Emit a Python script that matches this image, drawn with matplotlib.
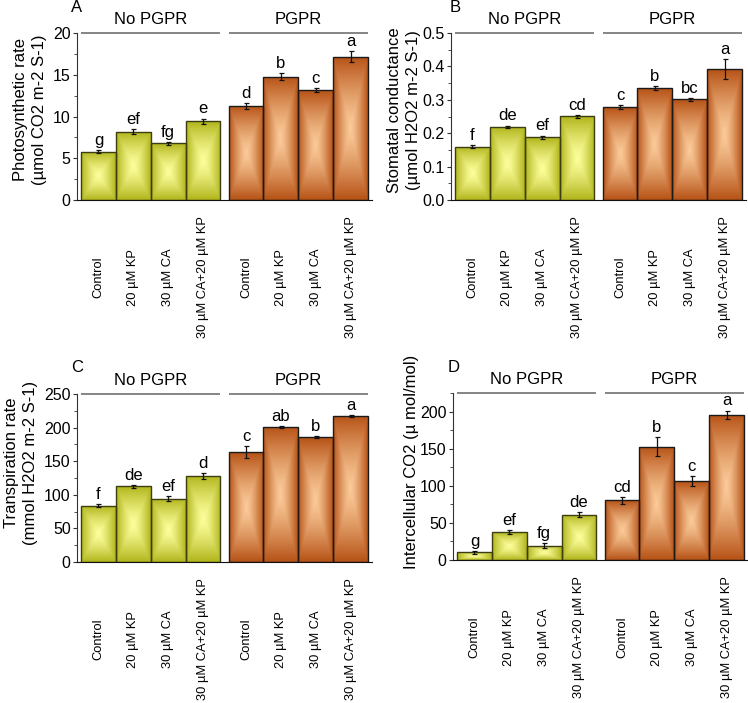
import numpy as np
import matplotlib
matplotlib.use("Agg")
import matplotlib.pyplot as plt
from matplotlib.ticker import MultipleLocator, FormatStrFormatter

plt.rcParams['font.family'] = ['Liberation Sans', 'DejaVu Sans']

categories = ['Control', '20 µM KP', '30 µM CA', '30 µM CA+20 µM KP',
              'Control', '20 µM KP', '30 µM CA', '30 µM CA+20 µM KP']
groups = ['No PGPR', 'PGPR']

photo_vals = [5.78, 8.18, 6.79, 9.46, 11.26, 14.77, 13.13, 17.16]
photo_err = [0.2, 0.3, 0.2, 0.3, 0.4, 0.4, 0.24, 0.66]
photo_let = ['g', 'ef', 'fg', 'e', 'd', 'b', 'c', 'a']

stom_vals = [0.160, 0.219, 0.188, 0.251, 0.277, 0.334, 0.301, 0.391]
stom_err = [0.004, 0.004, 0.005, 0.004, 0.006, 0.006, 0.004, 0.030]
stom_let = ['f', 'de', 'ef', 'cd', 'c', 'b', 'bc', 'a']

trans_vals = [83.8, 112.6, 94.2, 128.0, 163.2, 201.4, 185.5, 217.7]
trans_err = [2.0, 2.5, 4.0, 5.0, 8.7, 1.5, 1.5, 1.5]
trans_let = ['f', 'de', 'ef', 'd', 'c', 'ab', 'b', 'a']

ci_vals = [10.4, 37.4, 19.4, 60.8, 80.2, 152.3, 106.3, 195.5]
ci_err = [2.0, 3.0, 3.0, 3.4, 4.5, 12.8, 6.3, 5.9]
ci_let = ['g', 'ef', 'fg', 'de', 'cd', 'b', 'c', 'a']

W, H = 748, 703
fig = plt.figure(figsize=(W / 100, H / 100), dpi=100)

gap = 0.23
xpos = np.array([0, 1, 2, 3, 4 + gap, 5 + gap, 6 + gap, 7 + gap])
xlim = (-0.615, 7 + gap + 0.615)

yellow_edge = np.array([176, 181, 26]) / 255
yellow_center = np.array([253, 254, 155]) / 255
orange_edge = np.array([182, 82, 22]) / 255
orange_center = np.array([251, 202, 152]) / 255

n = 200
u = np.linspace(-1, 1, n)
UU, VV = np.meshgrid(u, u)
T = np.maximum(np.abs(UU), np.abs(VV)) ** 1.3


def grad_img(c_edge, c_center):
    return c_center[None, None, :] + (c_edge - c_center)[None, None, :] * T[:, :, None]


img_y = grad_img(yellow_edge, yellow_center)
img_o = grad_img(orange_edge, orange_center)


def panel(rect, vals, errs, lets, ylim, major, minor, fmt, ylabel, ylab_x, ylab_y):
    ax = fig.add_axes(rect)
    ax.set_xlim(*xlim)
    ax.set_ylim(*ylim)
    for i, (x, v, e) in enumerate(zip(xpos, vals, errs)):
        img = img_y if i < 4 else img_o
        ec = '#3d3d12' if i < 4 else '#1a1a1a'
        bars = ax.bar(x, v, width=1.0, facecolor='none', edgecolor=ec, linewidth=1.0, zorder=3)
        patch = bars[0]
        im = ax.imshow(img, extent=(x - 0.5, x + 0.5, 0, v), aspect='auto',
                       interpolation='bilinear', zorder=2)
        im.set_clip_path(patch)
        ax.errorbar(x, v, yerr=e, fmt='none', ecolor='#111111', elinewidth=0.9,
                    capsize=1.8, capthick=0.9, zorder=4)
        ax.annotate(lets[i], (x, v + e), xytext=(0, 1.5), textcoords='offset points',
                    ha='center', va='bottom', fontsize=12, zorder=5)
    ax.set_xlim(*xlim)
    ax.set_ylim(*ylim)
    ax.spines['top'].set_visible(False)
    ax.spines['right'].set_visible(False)
    ax.spines['left'].set_color('#333333')
    ax.spines['bottom'].set_color('#111111')
    ax.yaxis.set_major_locator(MultipleLocator(major))
    ax.yaxis.set_minor_locator(MultipleLocator(minor))
    ax.yaxis.set_major_formatter(FormatStrFormatter(fmt))
    ax.tick_params(axis='y', which='major', length=3, width=0.8, labelsize=11.5, pad=1.5, color='#333333')
    ax.tick_params(axis='y', which='minor', length=2, width=0.6, color='#333333')
    ax.set_xticks(xpos)
    ax.set_xticklabels(categories, rotation=90, fontsize=9.3, va='center', ha='center')
    ax.tick_params(axis='x', length=0, pad=55.5)
    for g, (a, b) in zip(groups, [(xpos[0] - 0.5, xpos[3] + 0.5), (xpos[4] - 0.5, xpos[7] + 0.5)]):
        ax.plot([a, b], [1, 1], color='#858585', lw=1.4, transform=ax.get_xaxis_transform(),
                clip_on=False, solid_capstyle='butt')
        ax.annotate(g, ((a + b) / 2, 1), xycoords=('data', 'axes fraction'),
                    xytext=(0, 10), textcoords='offset points', ha='center', va='center',
                    fontsize=12)
    ax.text(ylab_x, ylab_y, ylabel, rotation=90, ha='center', va='center',
            transform=ax.transAxes, fontsize=12, linespacing=1.35, multialignment='center')
    return ax


def rect(left, right, top, bottom):
    return [left / W, 1 - bottom / H, (right - left) / W, (bottom - top) / H]


panel(rect(77, 372, 33, 200), photo_vals, photo_err, photo_let, (0, 20), 5, 2.5, '%d',
      'Photosynthetic rate\n(µmol CO2 m-2 S-1)', -0.159, 0.54)
panel(rect(451, 746, 33, 200), stom_vals, stom_err, stom_let, (0, 0.5), 0.1, 0.05, '%.1f',
      'Stomatal conductance\n(µmol H2O2 m-2 S-1)', -0.16, 0.54)
panel(rect(77, 372, 394, 562), trans_vals, trans_err, trans_let, (0, 250), 50, 25, '%d',
      'Transpiration rate\n(mmol H2O2 m-2 S-1)', -0.19, 0.59)
panel(rect(453, 748, 393, 560), ci_vals, ci_err, ci_let, (0, 225), 50, 25, '%d',
      'Intercellular CO2 (µ mol/mol)', -0.142, 0.587)

for lab, (x, y) in zip(['A', 'B', 'C', 'D'], [(77, 8), (455, 8), (77, 368), (454, 367)]):
    fig.text(x / W, 1 - y / H, lab, ha='center', va='center', fontsize=12)

fig.savefig('out.png', dpi=100)
